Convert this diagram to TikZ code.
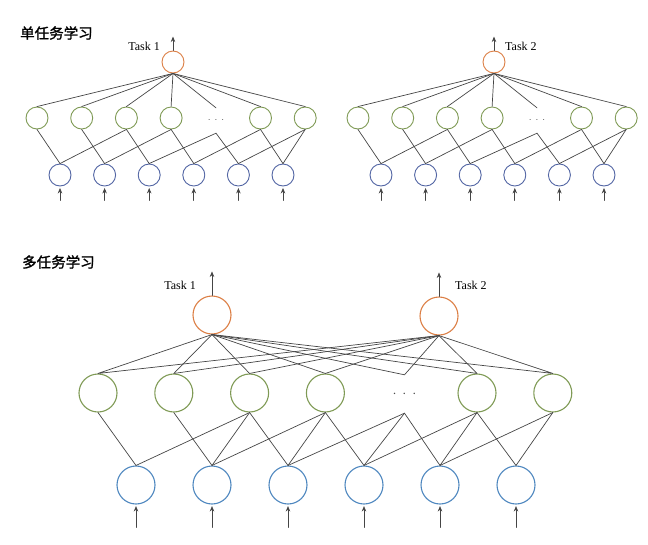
\documentclass[tikz,border=0pt]{standalone}
\usepackage{fontspec}
\setmainfont{Liberation Serif}
\newfontfamily\cjk[AutoFakeBold=1.5]{Noto Sans CJK SC}
\usetikzlibrary{arrows.meta}
\definecolor{outc}{HTML}{DC7F45}
\definecolor{hidc}{HTML}{7F9A55}
\definecolor{inc}{HTML}{5265A3}
\definecolor{inlc}{HTML}{4E87BF}
\definecolor{wirec}{HTML}{454545}
\newcommand\spreaddots[1]{$\cdot$\hspace{#1}$\cdot$\hspace{#1}$\cdot$}
\tikzset{
	neuron/.style={circle, draw, inner sep=0pt},
	netS/.style={neuron, minimum size=22pt, line width=0.9pt},
	netL/.style={neuron, minimum size=38pt, line width=1.1pt},
	dotsbox/.style={inner sep=0pt, minimum width=4pt, text=black!70},
	task/.style={inner sep=0pt, font=\fontsize{12}{14}\selectfont},
	heading/.style={anchor=west, inner sep=0pt, font=\cjk\bfseries\fontsize{14.5}{16}\selectfont},
	wire/.style={draw=wirec, line width=0.7pt}
}
\begin{document}
\begin{tikzpicture}[x=1pt, y=-1pt, line join=round, line cap=round, >={Stealth[length=5.5pt,width=4.5pt]}]
	\useasboundingbox (0,0) rectangle (648,544);
	\node[heading] (single) at (20,33) {单任务学习};
	\node[heading] (multi) at (22,262) {多任务学习};
	% single task nets
	\foreach \n/\s/\m/\an/\lx in {a/0/1/east/160, b/321/2/west/505}{
		\node[netS, draw=outc] (\n o) at (173+\s,62) {};
		\foreach \x in {1,2,3,4,6,7} \node[netS, draw=hidc] (\n h\x) at ({37+44.7*(\x-1)+\s},118) {};
		\node[dotsbox, minimum height=25pt] (\n h5) at (216+\s,120.5) {\spreaddots{4pt}};
		\foreach \x in {1,...,6}{
			\node[netS, draw=inc] (\n i\x) at ({60+44.6*(\x-1)+\s},175) {};
			\draw[wire, <-, shorten <=1.5pt] (\n i\x.south) -- ++(0,14);
		}
		\foreach \x in {1,...,7} \draw[wire] (\n o.south) -- (\n h\x.north);
		\foreach \x/\y in {1/1,2/2,3/1,3/3,4/2,4/4,5/3,5/5,6/4,6/6,7/5,7/6} \draw[wire] (\n h\x.south) -- (\n i\y.north);
		\draw[wire, ->] (\n o.north) -- ++(0,-14);
		\node[task, anchor=\an] (\n t) at (\lx,46) {Task \m};
	}
	% multi task net
	\node[netL, draw=outc] (o1) at (212,315) {};
	\node[netL, draw=outc] (o2) at (439,316) {};
	\foreach \x in {1,2,3,4,6,7} \node[netL, draw=hidc] (h\x) at ({98+75.8*(\x-1)},393) {};
	\node[dotsbox, minimum height=38pt, font=\fontsize{14}{16}\selectfont] (h5) at (404.5,394) {\spreaddots{6pt}};
	\foreach \x in {1,...,6}{
		\node[netL, draw=inlc] (i\x) at ({136+76*(\x-1)},485) {};
		\draw[wire, <-, shorten <=1.5pt] (i\x.south) -- ++(0,23);
	}
	\foreach \x in {1,...,7} \draw[wire] (o1.south) -- (h\x.north) (o2.south) -- (h\x.north);
	\foreach \x/\y in {1/1,2/2,3/1,3/2,3/3,4/2,4/3,4/4,5/3,5/4,5/5,6/4,6/5,6/6,7/5,7/6} \draw[wire] (h\x.south) -- (i\y.north);
	\draw[wire, ->] (o1.north) -- ++(0,-24);
	\draw[wire, ->] (o2.north) -- ++(0,-24);
	\node[task, anchor=east] (t1) at (196,285) {Task 1};
	\node[task, anchor=west] (t2) at (455,285) {Task 2};
\end{tikzpicture}
\end{document}
